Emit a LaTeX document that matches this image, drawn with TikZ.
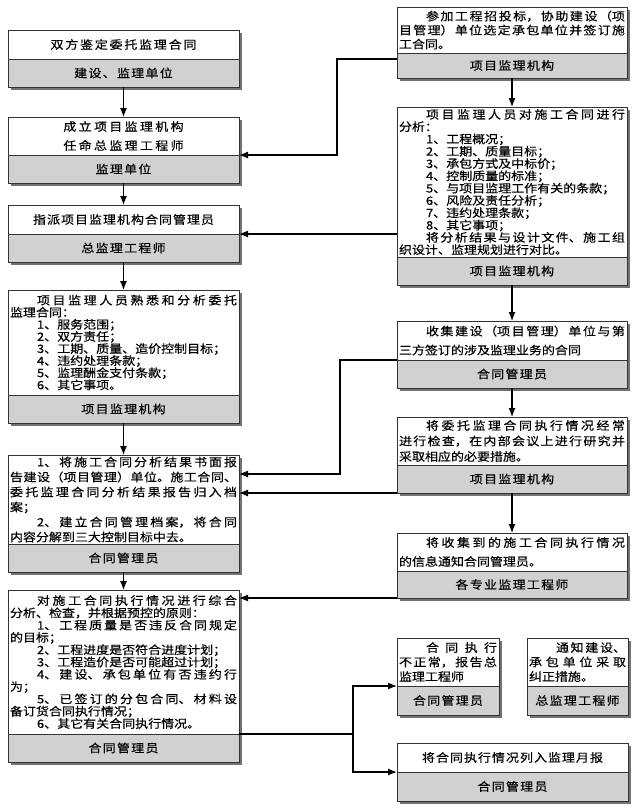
\documentclass[tikz,border=0pt]{standalone}
\usepackage{fontspec}
\setmainfont{Noto Sans CJK SC}[FakeStretch=1.13,FakeBold=0.4]
\newfontfamily\widecjk{Noto Sans CJK SC}[FakeStretch=1.13,FakeBold=0.4,LetterSpace=11]
\XeTeXlinebreaklocale "zh"
\XeTeXlinebreakskip=0pt plus 1pt
\usepackage{tikz}
\usetikzlibrary{positioning,shadows,arrows.meta}
\definecolor{bandgray}{rgb}{0.82,0.82,0.82}

\tikzset{
  topbox/.style={draw=black!80,line width=1pt,fill=white,anchor=north west,
    inner xsep=2pt,inner ysep=1pt,outer sep=0pt,
    drop shadow={shadow xshift=2.5pt,shadow yshift=-2.5pt,fill=black!55,opacity=1}},
  namebox/.style={draw=black!80,line width=1pt,fill=bandgray,inner sep=0pt,outer sep=0pt,
    minimum height=28pt,font=\widecjk\fontsize{11.5pt}{13pt}\selectfont,
    drop shadow={shadow xshift=2.5pt,shadow yshift=-2.5pt,fill=black!55,opacity=1}},
  headtext/.style={align=center,font=\widecjk\fontsize{11.5pt}{#1}\selectfont},
  bodytext/.style={align=justify,font=\fontsize{11.5pt}{#1}\selectfont}
}

\begin{document}
\begin{tikzpicture}[x=1pt,y=-1pt,>={Latex[length=9pt,width=7pt]},line width=1.2pt]
  \path[use as bounding box,fill=white] (0,0) rectangle (640,809);

  % left column
  \node[topbox,text width=227pt,minimum height=29pt,headtext=13pt] (l1) at (8,30) {双方鉴定委托监理合同};
  \node[namebox,minimum width=231pt,below=0pt of l1] (l1b) {建设、监理单位};

  \node[topbox,text width=227pt,minimum height=38pt,headtext=19pt] (l2) at (8,117) {成立项目监理机构\\任命总监理工程师};
  \node[namebox,minimum width=231pt,below=0pt of l2] (l2b) {监理单位};

  \node[topbox,text width=227pt,minimum height=29pt,headtext=13pt] (l3) at (8,205) {指派项目监理机构合同管理员};
  \node[namebox,minimum width=231pt,below=0pt of l3] (l3b) {总监理工程师};

  \node[topbox,text width=227pt,minimum height=105pt,bodytext=12.1pt] (l4) at (8,290) {%
    \hspace*{27pt}项目监理人员熟悉和分析委托\linebreak 监理合同：\\
    \hspace*{27pt}1、服务范围；\\
    \hspace*{27pt}2、双方责任；\\
    \hspace*{27pt}3、工期、质量、造价控制目标；\\
    \hspace*{27pt}4、违约处理条款；\\
    \hspace*{27pt}5、监理酬金支付条款；\\
    \hspace*{27pt}6、其它事项。};
  \node[namebox,minimum width=231pt,below=0pt of l4] (l4b) {项目监理机构};

  \node[topbox,text width=227pt,minimum height=89pt,bodytext=15pt] (l5) at (8,455) {%
    \hspace*{27pt}1、将施工合同分析结果书面报\linebreak 告建设（项目管理）单位。施工合同、\linebreak 委托监理合同分析结果报告归入档\linebreak 案；\\
    \hspace*{27pt}2、建立合同管理档案，将合同\linebreak 内容分解到三大控制目标中去。};
  \node[namebox,minimum width=231pt,below=0pt of l5] (l5b) {合同管理员};

  \node[topbox,text width=227pt,minimum height=144pt,bodytext=12.3pt] (l6) at (8,590) {%
    \hspace*{27pt}对施工合同执行情况进行综合\linebreak 分析、检查，并根据预控的原则：\\
    \hspace*{27pt}1、工程质量是否违反合同规定\linebreak 的目标；\\
    \hspace*{27pt}2、工程进度是否符合进度计划；\\
    \hspace*{27pt}3、工程造价是否可能超过计划；\\
    \hspace*{27pt}4、建设、承包单位有否违约行\linebreak 为；\\
    \hspace*{27pt}5、已签订的分包合同、材料设\linebreak 备订货合同执行情况；\\
    \hspace*{27pt}6、其它有关合同执行情况。};
  \node[namebox,minimum width=231pt,below=0pt of l6] (l6b) {合同管理员};

  % right column
  \node[topbox,text width=226pt,minimum height=46pt,bodytext=14pt] (r1) at (397,7) {%
    \hspace*{27pt}参加工程招投标，协助建设（项\linebreak 目管理）单位选定承包单位并签订施\linebreak 工合同。};
  \node[namebox,minimum width=230pt,minimum height=25pt,below=0pt of r1] (r1b) {项目监理机构};

  \node[topbox,text width=226pt,minimum height=150pt,bodytext=12.3pt] (r2) at (397,107) {%
    \hspace*{27pt}项目监理人员对施工合同进行\linebreak 分析：\\
    \hspace*{27pt}1、工程概况；\\
    \hspace*{27pt}2、工期、质量目标；\\
    \hspace*{27pt}3、承包方式及中标价；\\
    \hspace*{27pt}4、控制质量的标准；\\
    \hspace*{27pt}5、与项目监理工作有关的条款；\\
    \hspace*{27pt}6、风险及责任分析；\\
    \hspace*{27pt}7、违约处理条款；\\
    \hspace*{27pt}8、其它事项；\\
    \hspace*{27pt}将分析结果与设计文件、施工组\linebreak 织设计、监理规划进行对比。};
  \node[namebox,minimum width=230pt,below=0pt of r2] (r2b) {项目监理机构};

  \node[topbox,text width=226pt,minimum height=39pt,bodytext=19pt] (r3) at (397,321) {%
    \hspace*{27pt}收集建设（项目管理）单位与第\linebreak 三方签订的涉及监理业务的合同};
  \node[namebox,minimum width=230pt,below=0pt of r3] (r3b) {合同管理员};

  \node[topbox,text width=226pt,minimum height=48pt,bodytext=15.5pt] (r4) at (397,417) {%
    \hspace*{27pt}将委托监理合同执行情况经常\linebreak 进行检查，在内部会议上进行研究并\linebreak 采取相应的必要措施。};
  \node[namebox,minimum width=230pt,below=0pt of r4] (r4b) {项目监理机构};

  \node[topbox,text width=226pt,minimum height=38pt,bodytext=19pt] (r5) at (397,533) {%
    \hspace*{27pt}将收集到的施工合同执行情况\linebreak 的信息通知合同管理员。};
  \node[namebox,minimum width=230pt,minimum height=27pt,below=0pt of r5] (r5b) {各专业监理工程师};

  \node[topbox,text width=98pt,minimum height=48pt,bodytext=14.5pt] (r9) at (397,638) {%
    \hspace*{27pt}合同执行\linebreak 不正常，报告总\linebreak 监理工程师};
  \node[namebox,minimum width=102pt,minimum height=29pt,below=0pt of r9] (r9b) {合同管理员};

  \node[topbox,text width=97pt,minimum height=48pt,bodytext=14.5pt] (r10) at (527,638) {%
    \hspace*{27pt}通知建设、\linebreak 承包单位采取\linebreak 纠正措施。};
  \node[namebox,minimum width=101pt,minimum height=29pt,below=0pt of r10] (r10b) {总监理工程师};

  \node[topbox,text width=227pt,minimum height=29pt,headtext=13pt] (r11) at (397,743) {将合同执行情况列入监理月报};
  \node[namebox,minimum width=231pt,minimum height=29pt,below=0pt of r11] (r11b) {合同管理员};

  % bends
  \coordinate (k1) at (337,100);
  \coordinate (k2) at (340,474);
  \path (l6.south east) ++(114,0) coordinate (k3);

  \draw[->] (l1b) -- (l2);
  \draw[->] (l2b) -- (l3);
  \draw[->] (l3b) -- (l4);
  \draw[->] (l4b) -- (l5);
  \draw[->] (l5b) -- (l6);
  \draw[->] (r1b) -- (r2);
  \draw[->] (r2b) -- (r3);
  \draw[->] (r3b) -- (r4);
  \draw[->] (r4b) -- (r5);

  \draw[->] ([yshift=-6pt]r1.south west) -| (k1) |- (l2.south east);
  \draw[->] (r2.west |- l3.south east) -- (l3.south east);
  \draw[->] (r3.south west) -| (k2) -- (k2 -| l5.east);
  \draw[->] (r4b.south west) -- (r4b.south west -| l5.east);
  \draw[->] (r5b.south west) -- (r5b.south west -| l6.east);
  \draw (l6.south east) -- (k3);
  \draw[->] (k3) |- (r9.south west);
  \draw[->] (k3) |- (r11.south west);
\end{tikzpicture}
\end{document}
